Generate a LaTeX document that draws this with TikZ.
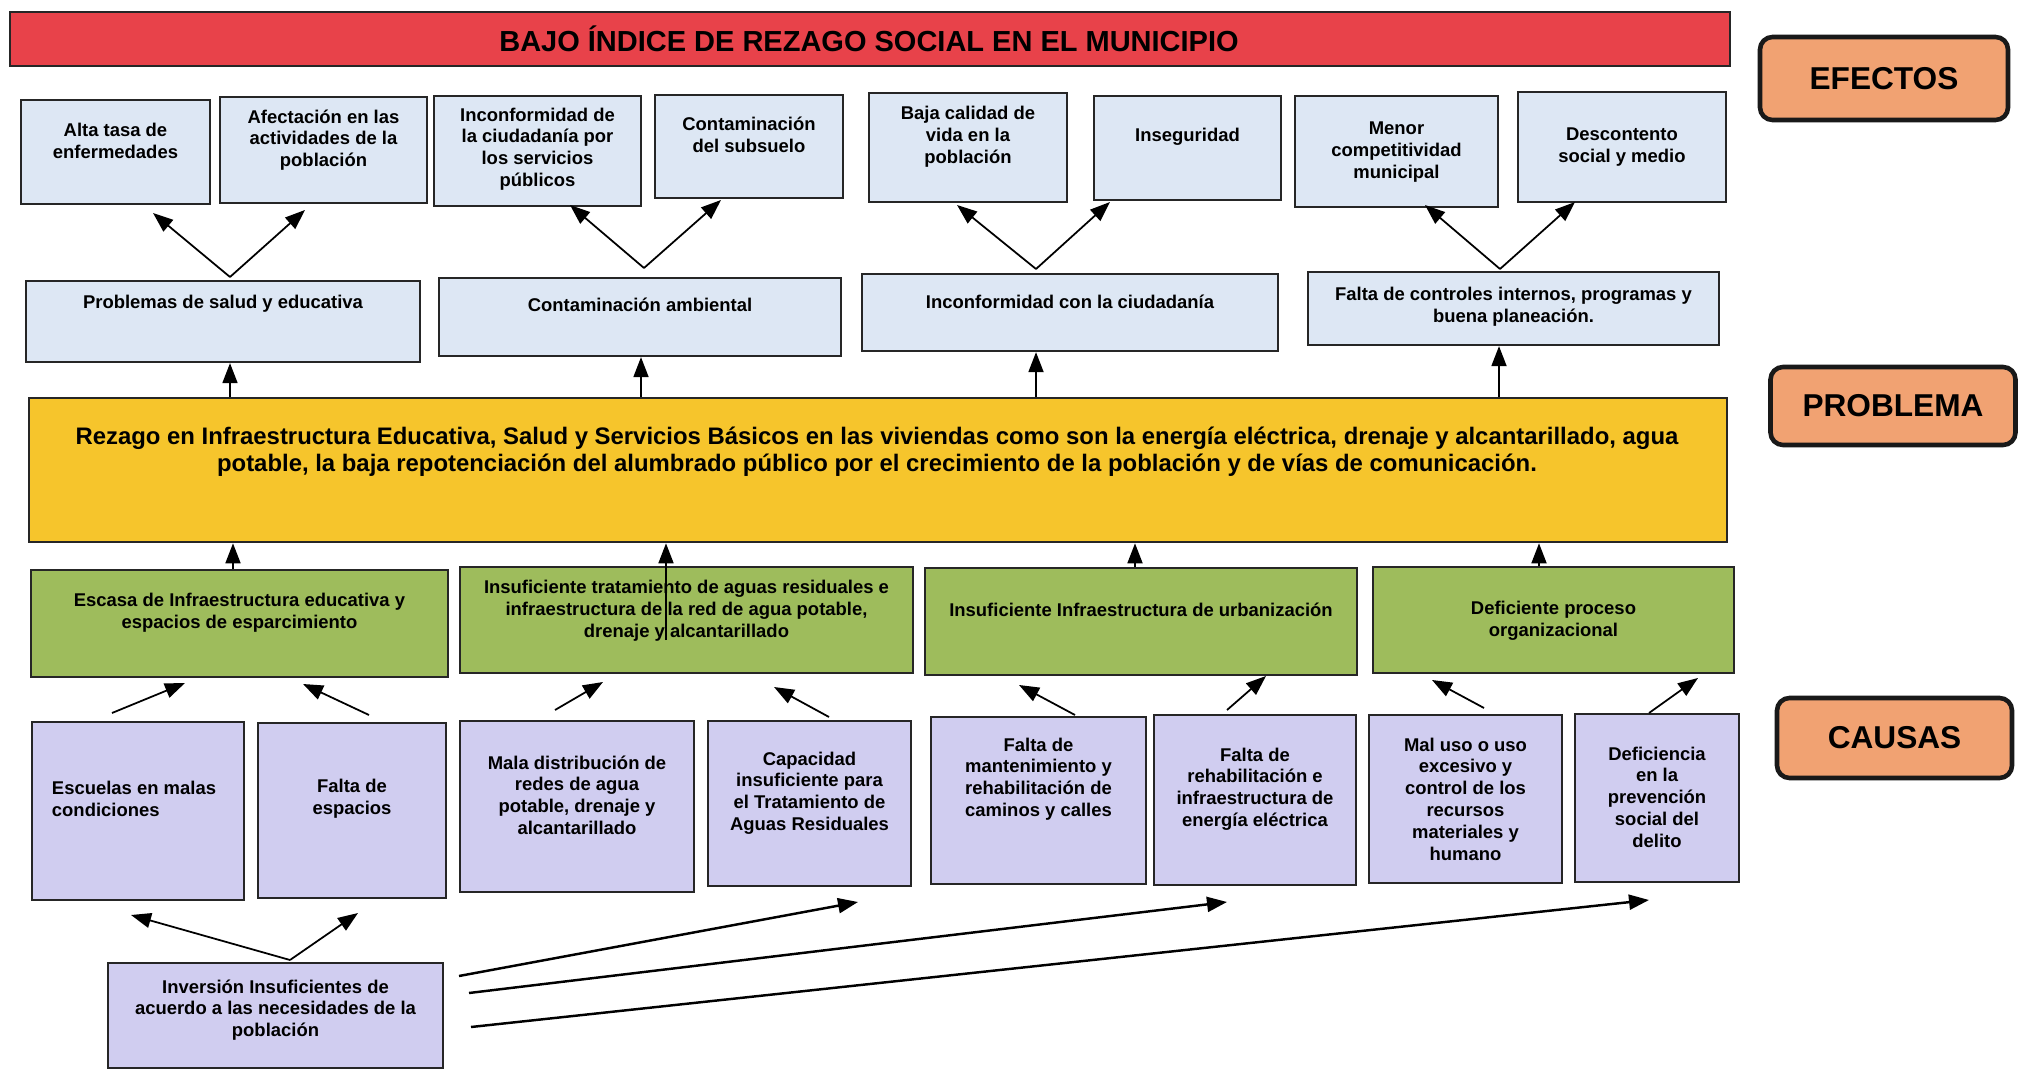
\documentclass[tikz,border=0pt]{standalone}
\usepackage{fontspec}
\setmainfont{Liberation Sans}
\usetikzlibrary{arrows.meta}
\definecolor{redbar}{RGB}{232,66,74}
\definecolor{effblue}{RGB}{221,231,244}
\definecolor{probyel}{RGB}{246,197,44}
\definecolor{causegreen}{RGB}{158,188,92}
\definecolor{causepurple}{RGB}{208,205,240}
\definecolor{labelorange}{RGB}{241,162,114}
\newcommand\bx[8]{%
  \node[#2, minimum width={(#5-#3)*0.02cm}, minimum height={(#6-#4)*0.02cm}] (#1) at ({(#3+#5)/2},{(#4+#6)/2}) {};
  \node[txt] (#1-t) at ({(#3+#5)/2},#7) {#8};
}
\begin{document}
\begin{tikzpicture}[x=0.02cm,y=-0.02cm,
  boxbase/.style={draw=black!85, line width=1.3pt, inner sep=0pt},
  effbox/.style={boxbase, fill=effblue},
  greenbox/.style={boxbase, fill=causegreen},
  purplebox/.style={boxbase, fill=causepurple},
  txt/.style={font=\bfseries\fontsize{10.5}{12.4}\selectfont, align=center, inner sep=0pt},
  lbl/.style={draw=black!90, line width=2.6pt, fill=labelorange, rounded corners=0.25cm, inner sep=0pt, font=\bfseries\fontsize{18}{20}\selectfont},
  arr/.style={line width=1pt, -{Triangle[length=0.4cm, width=0.3cm]}},
  longarr/.style={line width=1.4pt, -{Triangle[length=0.4cm, width=0.3cm]}}
]
\useasboundingbox[fill=white] (0,0) rectangle (2018,1071);

% title bar
\node[draw=black!85, line width=1.3pt, fill=redbar, minimum width={1720*0.02cm}, minimum height={54*0.02cm}, inner sep=0pt] (title) at (870,39) {};
\node[font=\bfseries\fontsize{16.5}{18}\selectfont, inner sep=0pt] (title-t) at (869,39) {BAJO ÍNDICE DE REZAGO SOCIAL EN EL MUNICIPIO};

% side labels
\node[lbl, minimum width={248*0.02cm}, minimum height={83*0.02cm}] (lab1) at (1884,78.5) {EFECTOS};
\node[lbl, minimum width={245*0.02cm}, minimum height={78*0.02cm}] (lab2) at (1893,406) {PROBLEMA};
\node[lbl, minimum width={235*0.02cm}, minimum height={80*0.02cm}] (lab3) at (1894.5,738) {CAUSAS};

% effects
\bx{e1}{effbox}{21}{100}{210}{204}{141}{Alta tasa de\\enfermedades}
\bx{e2}{effbox}{220}{97}{427}{203}{140}{Afectación en las\\actividades de la\\población}
\bx{e3}{effbox}{434}{96}{641}{206}{149}{Inconformidad de\\la ciudadanía por\\los servicios\\públicos}
\bx{e4}{effbox}{655}{95}{843}{198}{135}{Contaminación\\del subsuelo}
\bx{e5}{effbox}{869}{93}{1067}{202}{137}{Baja calidad de\\vida en la\\población}
\bx{e6}{effbox}{1094}{96}{1281}{200}{137}{Inseguridad}
\bx{e7}{effbox}{1295}{96}{1498}{207}{152}{Menor\\competitividad\\municipal}
\bx{e8}{effbox}{1518}{92}{1726}{202}{147}{Descontento\\social y medio}

\bx{m1}{effbox}{26}{281}{420}{362}{304}{Problemas de salud y educativa}
\bx{m2}{effbox}{439}{278}{841}{356}{305}{Contaminación ambiental}
\bx{m3}{effbox}{862}{274}{1278}{351}{302}{Inconformidad con la ciudadanía}
\bx{m4}{effbox}{1308}{272}{1719}{345}{307}{Falta de controles internos, programas y\\buena planeación.}

% problem
\node[draw=black!85, line width=1.5pt, fill=probyel, minimum width={1698*0.02cm}, minimum height={144*0.02cm}, inner sep=0pt] (yel) at (878,470) {};
\node[font=\bfseries\fontsize{13.6}{15.6}\selectfont, align=center, inner sep=0pt] (yel-t) at (877,452) {Rezago en Infraestructura Educativa, Salud y Servicios Básicos en las viviendas como son la energía eléctrica, drenaje y alcantarillado, agua\\potable, la baja repotenciación del alumbrado público por el crecimiento de la población y de vías de comunicación.};

% causes (green)
\bx{g1}{greenbox}{31}{570}{448}{677}{613}{Escasa de Infraestructura educativa y\\espacios de esparcimiento}
\bx{g2}{greenbox}{460}{567}{913}{673}{611}{Insuficiente tratamiento de aguas residuales e\\infraestructura de la red de agua potable,\\drenaje y alcantarillado}
\bx{g3}{greenbox}{925}{568}{1357}{675}{610}{Insuficiente Infraestructura de urbanización}
\bx{g4}{greenbox}{1373}{567}{1734}{673}{621}{Deficiente proceso\\organizacional}

% causes (purple)
\node[purplebox, minimum width={212*0.02cm}, minimum height={178*0.02cm}] (p1) at (138,811) {};
\node[txt, align=left] (p1-t) at (134,799) {Escuelas en malas\\condiciones};
\bx{p2}{purplebox}{258}{723}{446}{898}{799}{Falta de\\espacios}
\bx{p3}{purplebox}{460}{721}{694}{892}{795}{Mala distribución de\\redes de agua\\potable, drenaje y\\alcantarillado}
\bx{p4}{purplebox}{708}{721}{911}{886}{793}{Capacidad\\insuficiente para\\el Tratamiento de\\Aguas Residuales}
\bx{p5}{purplebox}{931}{717}{1146}{884}{779}{Falta de\\mantenimiento y\\rehabilitación de\\caminos y calles}
\bx{p6}{purplebox}{1154}{715}{1356}{885}{789}{Falta de\\rehabilitación e\\infraestructura de\\energía eléctrica}
\bx{p7}{purplebox}{1369}{715}{1562}{883}{799}{Mal uso o uso\\excesivo y\\control de los\\recursos\\materiales y\\humano}
\bx{p8}{purplebox}{1575}{714}{1739}{882}{797}{Deficiencia\\en la\\prevención\\social del\\delito}
\bx{inv}{purplebox}{108}{963}{443}{1068}{1010}{Inversión Insuficientes de\\acuerdo a las necesidades de la\\población}

% V arrows effects
\coordinate (v1) at (230,277); \coordinate (v1a) at (153,213); \coordinate (v1b) at (305,210);
\coordinate (v2) at (644,268); \coordinate (v2a) at (570,205); \coordinate (v2b) at (721,200);
\coordinate (v3) at (1036,269); \coordinate (v3a) at (957,205); \coordinate (v3b) at (1110,202);
\coordinate (v4) at (1500,269); \coordinate (v4a) at (1425,205); \coordinate (v4b) at (1575,202);
\foreach \v in {v1,v2,v3,v4}{
  \draw[arr] (\v) -- (\v a);
  \draw[arr] (\v) -- (\v b);
}

% problem -> intermediate effects
\coordinate (u1) at (230,0); \coordinate (u2) at (641,0); \coordinate (u3) at (1036,0); \coordinate (u4) at (1499,0);
\draw[arr] (yel.north -| u1) -- (m1.south -| u1);
\draw[arr] (yel.north -| u2) -- (m2.south -| u2);
\draw[arr] (yel.north -| u3) -- (m3.south -| u3);
\draw[arr] (yel.north -| u4) -- (m4.south -| u4);

% green -> problem
\coordinate (d1) at (233,0); \coordinate (d2) at (666,640); \coordinate (d3) at (1135,0); \coordinate (d4) at (1539,0);
\draw[arr] (g1.north -| d1) -- (yel.south -| d1);
\draw[arr] (d2) -- (yel.south -| d2);
\draw[arr] (g3.north -| d3) -- (yel.south -| d3);
\draw[arr] (g4.north -| d4) -- (yel.south -| d4);

% purple -> green
\coordinate (c1s) at (112,713);  \coordinate (c1e) at (185,683);
\coordinate (c2s) at (369,715);  \coordinate (c2e) at (303,684);
\coordinate (c3s) at (555,710);  \coordinate (c3e) at (603,682);
\coordinate (c4s) at (829,717);  \coordinate (c4e) at (774,687);
\coordinate (c5s) at (1075,715); \coordinate (c5e) at (1019,685);
\coordinate (c6s) at (1227,710); \coordinate (c6e) at (1266,676);
\coordinate (c7s) at (1484,708); \coordinate (c7e) at (1432,680);
\coordinate (c8s) at (1649,713); \coordinate (c8e) at (1698,678);
\foreach \i in {1,...,8}{ \draw[arr] (c\i s) -- (c\i e); }

% investment arrows
\coordinate (iv) at (290,960); \coordinate (iva) at (131,915); \coordinate (ivb) at (358,913);
\draw[arr] (iv) -- (iva);
\draw[arr] (iv) -- (ivb);
\coordinate (l1s) at (459,976);  \coordinate (l1e) at (858,902);
\coordinate (l2s) at (469,993);  \coordinate (l2e) at (1227,902);
\coordinate (l3s) at (471,1027); \coordinate (l3e) at (1649,900);
\draw[longarr] (l1s) -- (l1e);
\draw[longarr] (l2s) -- (l2e);
\draw[longarr] (l3s) -- (l3e);
\end{tikzpicture}
\end{document}
